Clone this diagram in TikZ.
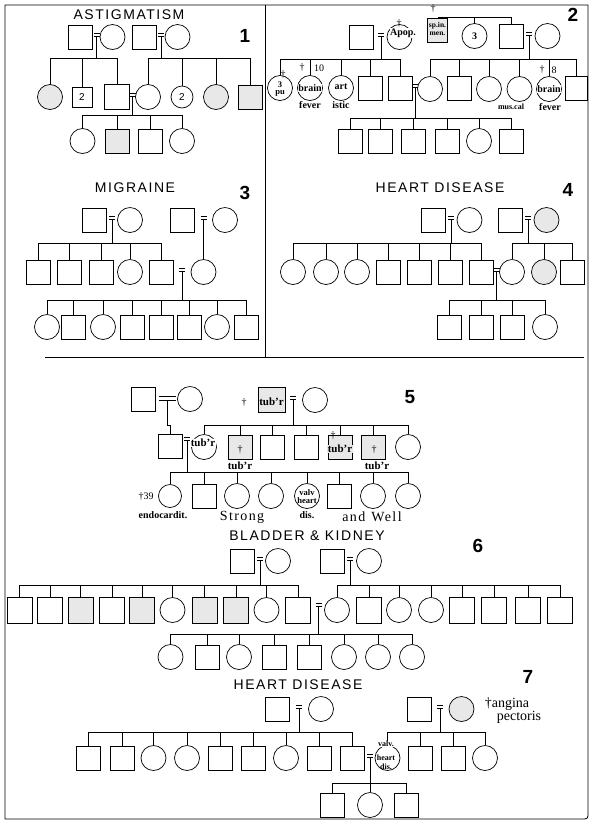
\documentclass[tikz,border=0pt]{standalone}
\usepackage{fontspec}
\setmainfont{Liberation Serif}
\newfontfamily\ttlfont{Liberation Sans}[LetterSpace=11]
\newfontfamily\numfont{Liberation Sans}
\newfontfamily\spserif{Liberation Serif}[LetterSpace=10]
\newcommand\drops[2]{\foreach \n in {#2}{\draw[ln] (\n.north) -- (\n.north |- 0,#1);}}
\newcommand\sibl[3]{\draw[ln] (#2.north |- 0,#1) -- (#3.north |- 0,#1);}
\newcommand\mrg[2]{\draw[ln] (#1-3,#2-3.5) -- (#1+3,#2-3.5) (#1-3,#2-0.5) -- (#1+3,#2-0.5);}
\newcommand\dsc[3]{\draw[ln] (#1,#2) -- (#1,#3);}
\begin{document}
\begin{tikzpicture}[x=1pt,y=-1pt,
  sq/.style={draw,rectangle,minimum width=24,minimum height=24,inner sep=0,line width=.7},
  ci/.style={draw,circle,minimum size=25,inner sep=0,line width=.7},
  aff/.style={fill=black!9},
  ln/.style={line width=.6},
  ttl/.style={font=\ttlfont\fontsize{14}{14}\selectfont,inner sep=0},
  num/.style={font=\numfont\bfseries\fontsize{19}{19}\selectfont,inner sep=0},
  lab/.style={font=\bfseries\fontsize{10}{10}\selectfont,inner sep=0.3},
  sml/.style={font=\bfseries\fontsize{8}{8}\selectfont,inner sep=0.3},
  big/.style={font=\spserif\fontsize{14}{14}\selectfont,inner sep=0},
  dg/.style={font=\fontsize{10}{10}\selectfont,inner sep=0},
  ]
\fill[white] (0,0) rectangle (592,823);
\useasboundingbox (0,0) rectangle (592,823);
% frame
\draw[line width=.8] (5,5) -- (588,5) -- (588,812) .. controls (588,819) .. (581,819) -- (5,819) -- cycle;
\draw[line width=.7] (265,5) -- (265,357);
\draw[line width=.8] (45,357) -- (584,357);

% ===== Panel 1 =====
\node[ttl] at (129,15) {ASTIGMATISM};
\node[num] at (245,36) {1};
\node[sq] (a1) at (80.5,37) {};
\node[ci] (a2) at (112.5,37) {};
\node[sq] (a3) at (144.5,37) {};
\node[ci] (a4) at (177.5,37) {};
\mrg{96.5}{37} \dsc{96.5}{36.5}{58}
\mrg{161}{37} \dsc{161}{36.5}{58}
\node[ci,aff] (a5) at (50,97) {};
\node[sq,minimum size=20] (a6) at (82,97) {\numfont\fontsize{10}{10}\selectfont 2};
\node[sq,minimum size=25] (a7) at (117,97) {};
\node[ci] (a8) at (148,97) {};
\node[ci,minimum size=22] (a9) at (182,97) {\numfont\fontsize{10}{10}\selectfont 2};
\node[ci,aff] (a10) at (216,97) {};
\node[sq,aff] (a11) at (250,97) {};
\sibl{58}{a5}{a7} \drops{58}{a5,a6,a7}
\sibl{58}{a8}{a11} \drops{58}{a8,a9,a10,a11}
\mrg{132.5}{97} \dsc{132.5}{96.5}{115}
\node[ci] (a12) at (82.5,141) {};
\node[sq,aff] (a13) at (117,141) {};
\node[sq] (a14) at (150,141) {};
\node[ci] (a15) at (182,141) {};
\sibl{115}{a12}{a15} \drops{115}{a12,a13,a14,a15}

% ===== Panel 2 =====
\node[num] at (573,15) {2};
\node[sq] (b1) at (361.5,37) {};
\node[ci] (b2) at (399.5,37) {};
\node[lab,fill=white] at (403,33) {Apop.};
\node[dg] at (399,24) {†};
\mrg{381}{37} \dsc{381}{36.5}{59}
\node[sq,aff,minimum width=20,minimum height=24] (b3) at (437.5,30) {};
\node[sml,align=center,font=\bfseries\fontsize{7.5}{8}\selectfont] at (437.5,29) {sp.in.\\men.};
\node[dg] at (433,9) {†};
\node[ci] (b4) at (474.5,36) {\bfseries\fontsize{10}{10}\selectfont 3};
\node[sq] (b5) at (511,36) {};
\node[ci] (b6) at (547.5,36) {};
\mrg{529}{36} \dsc{529}{35.5}{59}
\draw[ln] (438,17) -- (511,17);
\drops{17}{b4,b5}
\node[ci] (b7) at (280,88) {};
\node[align=center,font=\bfseries\fontsize{8.5}{7.5}\selectfont,inner sep=0] at (280,89) {3\\pu};
\node[dg] at (283,75) {†};
\node[ci] (b8) at (310,88) {};
\node[lab,fill=white] at (310,88) {brain};
\node[lab] at (310,105) {fever};
\node[dg] at (302,68) {†};
\node[lab,font=\fontsize{10}{10}\selectfont] at (319,68) {10};
\node[ci] (b9) at (341,88) {};
\node[lab,fill=white] at (341,87) {art};
\node[lab] at (341,105) {istic};
\node[sq] (b10) at (370,88) {};
\node[sq] (b11) at (400,88) {};
\sibl{59}{b7}{b11} \drops{59}{b7,b8,b9,b10,b11}
\mrg{415}{88} \dsc{415}{87.5}{118}
\node[ci] (b12) at (430,89) {};
\node[sq] (b13) at (459.5,88) {};
\node[ci] (b14) at (489,89) {};
\node[ci] (b15) at (519.5,89) {};
\node[sml] at (511,107) {mus.cal};
\node[ci] (b16) at (549,89) {};
\node[lab,fill=white] at (549,89) {brain};
\node[lab] at (550,107) {fever};
\node[dg] at (542,70) {†};
\node[lab,font=\fontsize{10}{10}\selectfont] at (554,70) {8};
\node[sq,minimum width=22] (b17) at (576.5,88) {};
\sibl{59}{b12}{b17} \drops{59}{b12,b13,b14,b15,b16,b17}
\node[sq] (b18) at (350,141) {};
\node[sq] (b19) at (380,141) {};
\node[sq] (b20) at (413,141) {};
\node[sq] (b21) at (447,141) {};
\node[ci] (b22) at (479,141) {};
\node[sq] (b23) at (511,141) {};
\sibl{118}{b18}{b23} \drops{118}{b18,b19,b20,b21,b22,b23}

% ===== Panel 3 =====
\node[ttl] at (135,188) {MIGRAINE};
\node[num] at (245,193) {3};
\node[sq] (d1) at (94.5,220) {};
\node[ci] (d2) at (130,220) {};
\node[sq] (d3) at (182.5,220) {};
\node[ci] (d4) at (225,220) {};
\mrg{112}{220} \dsc{112}{219.5}{243}
\mrg{203.5}{220}
\node[sq] (d5) at (38.5,272) {};
\node[sq] (d6) at (69,272) {};
\node[sq] (d7) at (101,272) {};
\node[ci] (d8) at (130,272) {};
\node[sq] (d9) at (161,272) {};
\node[ci] (d10) at (203.5,272) {};
\draw[ln] (203.5,219.5) -- (d10.north);
\sibl{243}{d5}{d9} \drops{243}{d5,d6,d7,d8,d9}
\mrg{182}{272} \dsc{182}{271.5}{300}
\node[ci] (d11) at (47,327) {};
\node[sq] (d12) at (73,327) {};
\node[ci] (d13) at (103,327) {};
\node[sq] (d14) at (132,327) {};
\node[sq] (d15) at (161,327) {};
\node[sq] (d16) at (189,327) {};
\node[ci] (d17) at (217,327) {};
\node[sq] (d18) at (246,327) {};
\sibl{300}{d11}{d18} \drops{300}{d11,d12,d13,d14,d15,d16,d17,d18}

% ===== Panel 4 =====
\node[ttl] at (440,188) {HEART DISEASE};
\node[num] at (568,190) {4};
\node[sq] (e1) at (433.5,220) {};
\node[ci] (e2) at (469.5,220) {};
\node[sq] (e3) at (510,220) {};
\node[ci,aff] (e4) at (546.5,220) {};
\mrg{451}{220} \dsc{451}{219.5}{243}
\mrg{528}{220} \dsc{528}{219.5}{243}
\node[ci] (e5) at (293,272) {};
\node[ci] (e6) at (326,272) {};
\node[ci] (e7) at (357,272) {};
\node[sq] (e8) at (388,272) {};
\node[sq] (e9) at (419.5,272) {};
\node[sq] (e10) at (450.5,272) {};
\node[sq] (e11) at (481,272) {};
\node[ci] (e12) at (512,272) {};
\node[ci,aff] (e13) at (544,272) {};
\node[sq] (e14) at (572,272) {};
\sibl{243}{e5}{e11} \drops{243}{e5,e6,e7,e8,e9,e10,e11}
\sibl{243}{e12}{e14} \drops{243}{e12,e13,e14}
\mrg{496.5}{272} \dsc{496.5}{271.5}{300}
\node[sq] (e15) at (449,327) {};
\node[sq] (e16) at (481,327) {};
\node[sq] (e17) at (512,327) {};
\node[ci] (e18) at (545,327) {};
\sibl{300}{e15}{e18} \drops{300}{e15,e16,e17,e18}

% ===== Panel 5 =====
\node[num] at (410,397) {5};
\node[sq] (f1) at (143.5,399) {};
\node[ci] (f2) at (190,399) {};
\draw[ln] (159,396.5) -- (176,396.5) (159,400) -- (176,400);
\node[dg] at (244,403) {†};
\node[sq,aff,minimum width=27,minimum height=25] (f3) at (271.5,400) {};
\node[lab,font=\bfseries\fontsize{11}{11}\selectfont] at (271.5,402) {tub'r};
\node[ci] (f4) at (315,400) {};
\mrg{293}{400} \dsc{293}{399.5}{425}
\node[sq] (f5) at (170,446) {};
\draw[ln] (167,400) -- (167,425) -| (f5.north);
\node[ci] (f6) at (204,447) {};
\node[lab,fill=white,font=\bfseries\fontsize{11}{11}\selectfont] at (203,443) {tub'r};
\node[sq,aff] (f7) at (240,447) {};
\node[dg] at (240,450) {†};
\node[lab,font=\bfseries\fontsize{11}{11}\selectfont] at (240,466) {tub'r};
\node[sq] (f8) at (272,447) {};
\node[sq] (f9) at (306,447) {};
\node[sq,aff] (f10) at (340,447) {};
\node[lab,fill=black!9,font=\bfseries\fontsize{11}{11}\selectfont] at (340,449) {tub'r};
\node[dg] at (333,436) {†};
\node[sq,aff] (f11) at (373,447) {};
\node[dg] at (374,450) {†};
\node[lab,font=\bfseries\fontsize{11}{11}\selectfont] at (377,466) {tub'r};
\node[ci] (f12) at (408,447) {};
\sibl{425}{f6}{f12} \drops{425}{f6,f7,f8,f9,f10,f11,f12}
\mrg{187}{441} \dsc{187.5}{440.5}{472}
\node[ci,minimum size=23] (f13) at (170,496) {};
\node[lab,font=\fontsize{10}{10}\selectfont] at (146,497) {†39};
\node[sq] (f14) at (204,496) {};
\node[ci] (f15) at (237,496) {};
\node[ci] (f16) at (271,496) {};
\node[ci] (f17) at (307,496) {};
\node[align=center,font=\bfseries\fontsize{8.5}{8}\selectfont,inner sep=0] at (307,497) {valv\\heart};
\node[sq] (f18) at (339,496) {};
\node[ci] (f19) at (373,496) {};
\node[ci] (f20) at (408,496) {};
\sibl{472}{f13}{f20} \drops{472}{f13,f14,f15,f16,f17,f18,f19,f20}
\node[lab] at (163,515) {endocardit.};
\node[big] at (242,517) {Strong};
\node[lab] at (307,515) {dis.};
\node[big] at (372,517) {and\hspace{6pt}Well};

% ===== Panel 6 =====
\node[ttl] at (307,536) {BLADDER \& KIDNEY};
\node[num] at (478,546) {6};
\node[sq] (g1) at (242.5,561) {};
\node[ci] (g2) at (278,561) {};
\node[sq] (g3) at (332,561) {};
\node[ci] (g4) at (369,561) {};
\mrg{260}{561} \dsc{260}{560.5}{585}
\mrg{350}{561} \dsc{350}{560.5}{585}
\tikzset{sq6/.style={sq,minimum width=25,minimum height=26}}
\node[sq6] (g5) at (19.5,610) {};
\node[sq6] (g6) at (50,610) {};
\node[sq6,aff] (g7) at (80.5,610) {};
\node[sq6] (g8) at (112,610) {};
\node[sq6,aff] (g9) at (142,610) {};
\node[ci] (g10) at (172.5,610) {};
\node[sq6,aff] (g11) at (204.5,610) {};
\node[sq6,aff] (g12) at (236,610) {};
\node[ci] (g13) at (266.5,610) {};
\node[sq6] (g14) at (298,610) {};
\node[ci] (g15) at (337,610) {};
\node[sq6] (g16) at (369,610) {};
\node[ci] (g17) at (399,610) {};
\node[ci] (g18) at (431,610) {};
\node[sq6] (g19) at (462,610) {};
\node[sq6] (g20) at (494,610) {};
\node[sq6] (g21) at (528,610) {};
\node[sq6] (g22) at (560,610) {};
\sibl{585}{g5}{g14} \drops{585}{g5,g6,g7,g8,g9,g10,g11,g12,g13,g14}
\sibl{585}{g15}{g22} \drops{585}{g15,g16,g17,g18,g19,g20,g21,g22}
\mrg{318.5}{607} \dsc{318.5}{606.5}{634}
\node[ci] (g23) at (170.5,657) {};
\node[sq] (g24) at (207,657) {};
\node[ci] (g25) at (239,657) {};
\node[sq] (g26) at (274,657) {};
\node[sq] (g27) at (309,657) {};
\node[ci] (g28) at (344,657) {};
\node[ci] (g29) at (378,657) {};
\node[ci] (g30) at (412,657) {};
\sibl{634}{g23}{g30} \drops{634}{g23,g24,g25,g26,g27,g28,g29,g30}

% ===== Panel 7 =====
\node[ttl] at (298,685) {HEART DISEASE};
\node[num] at (528,677) {7};
\node[sq] (h1) at (277,709) {};
\node[ci] (h2) at (321,709) {};
\node[sq] (h3) at (419,709) {};
\node[ci,aff] (h4) at (461.5,709) {};
\node[font=\fontsize{14}{14}\selectfont,inner sep=0] at (507,704) {†angina};
\node[font=\fontsize{14}{14}\selectfont,inner sep=0] at (519,717) {pectoris};
\mrg{299}{709} \dsc{299}{708.5}{732}
\mrg{440}{709} \dsc{440}{708.5}{732}
\node[sq] (h5) at (88,758) {};
\node[sq] (h6) at (122.5,758) {};
\node[ci] (h7) at (153.5,758) {};
\node[ci] (h8) at (187,758) {};
\node[sq] (h9) at (220,758) {};
\node[sq] (h10) at (253,758) {};
\node[ci] (h11) at (286,758) {};
\node[sq] (h12) at (319,758) {};
\node[sq] (h13) at (352.5,758) {};
\node[ci] (h14) at (387.5,758) {};
\node[sq] (h15) at (420,758) {};
\node[sq] (h16) at (453,758) {};
\node[ci] (h17) at (485,758) {};
\sibl{732}{h5}{h13} \drops{732}{h5,h6,h7,h8,h9,h10,h11,h12,h13}
\sibl{732}{h14}{h17} \drops{732}{h14,h15,h16,h17}
\node[sml,fill=white] at (386,744) {valv.};
\node[align=center,font=\bfseries\fontsize{8}{9}\selectfont,inner sep=0] at (386,762) {heart\\dis.};
\mrg{370}{758} \dsc{370}{757.5}{783}
\node[sq] (h18) at (332,805) {};
\node[ci] (h19) at (370,805) {};
\node[sq] (h20) at (406,805) {};
\sibl{783}{h18}{h20} \drops{783}{h18,h19,h20}
\end{tikzpicture}
\end{document}
